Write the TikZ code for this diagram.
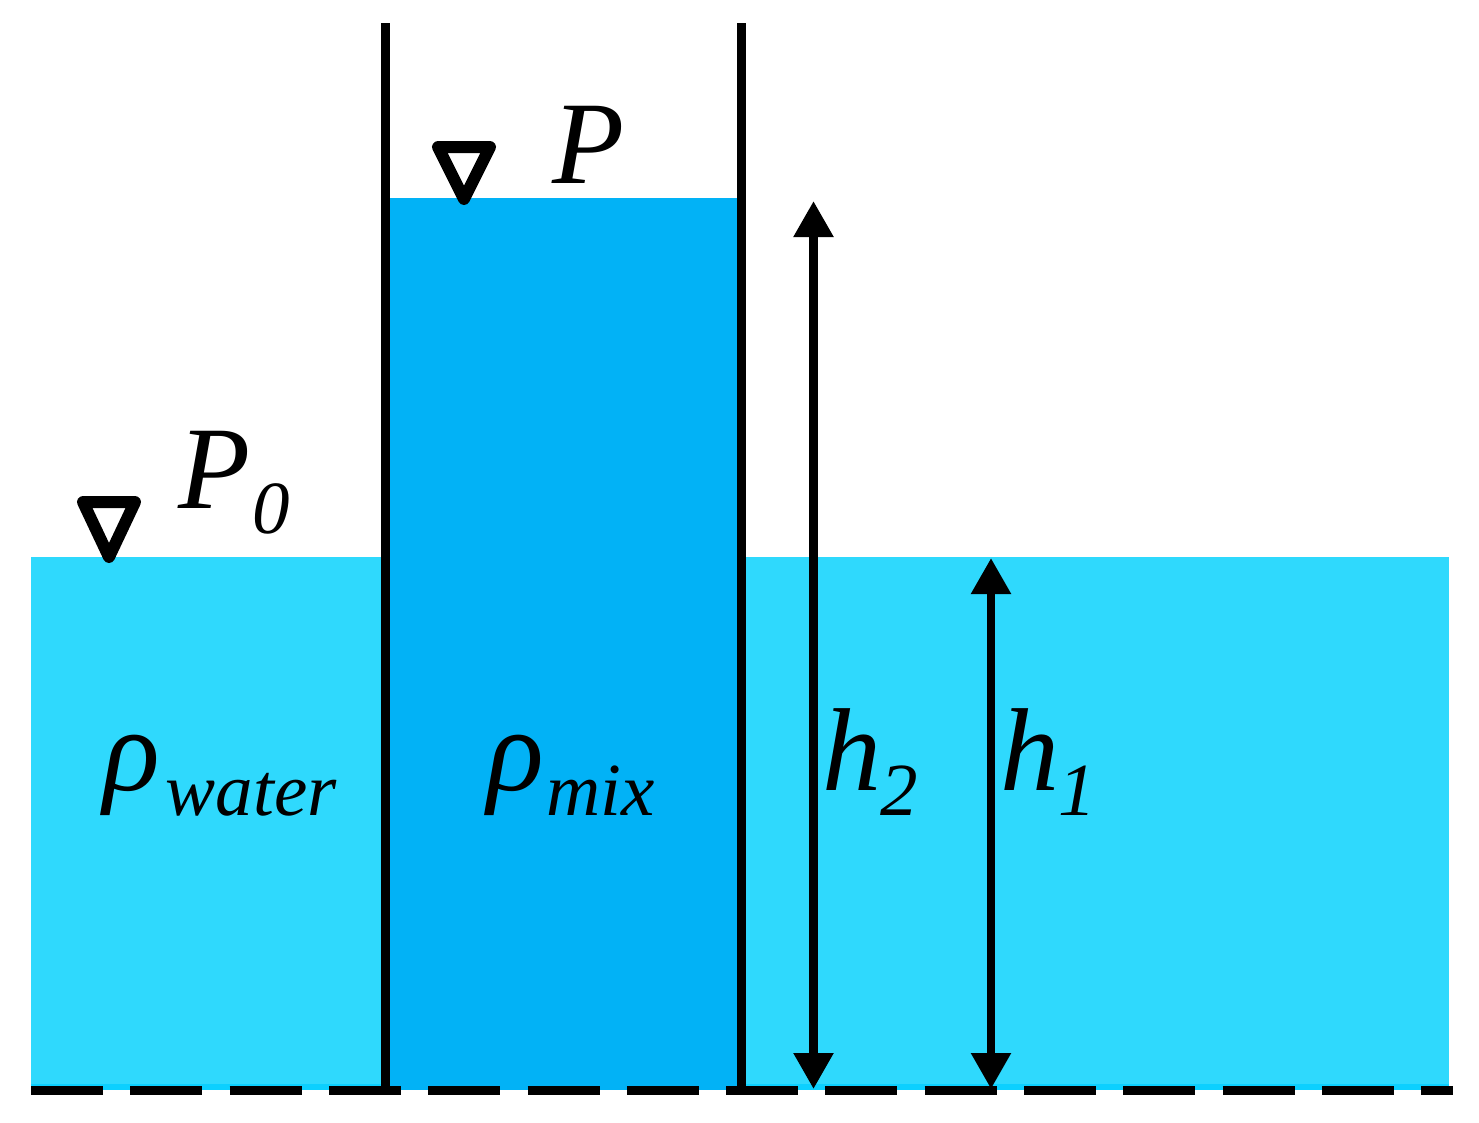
\documentclass[tikz,border=0pt]{standalone}
\usepackage{fontspec}
\setmainfont{Liberation Serif}
\usetikzlibrary{arrows.meta}
\definecolor{waterc}{HTML}{2FD9FD}
\definecolor{edgec}{HTML}{0CD0FF}
\definecolor{mixc}{HTML}{02B2F6}
\newcommand{\bigit}{\fontsize{118}{118}\selectfont\itshape}
\newcommand{\subit}[2][3]{\kern#1pt\lower25pt\hbox{\fontsize{75}{75}\selectfont\itshape #2}}
\tikzset{
  wall/.style={line width=9pt,black},
  datum/.style={line width=9pt,black,dash pattern=on 72pt off 27.3pt},
  level/.style={line width=12pt,black,line join=round},
  dim/.style={line width=8.5pt,black,{Triangle[length=36pt,width=38pt]}-{Triangle[length=36pt,width=38pt]},shorten <=-1pt,shorten >=-1pt},
  lab/.style={anchor=base west,inner sep=0pt,outer sep=0pt}
}
\begin{document}
\begin{tikzpicture}[x=1pt,y=-1pt]
\useasboundingbox (0,0) rectangle (1479,1122);
% water and mixture
\fill[waterc] (31,557) rectangle (1449,1088);
\fill[edgec] (31,1084) rectangle (1449,1090);
\fill[mixc] (388,198) rectangle (739,1090);
% walls
\coordinate (wlt) at (385.5,23);
\coordinate (wlb) at (385.5,1090);
\coordinate (wrt) at (741,23);
\coordinate (wrb) at (741,1090);
\draw[wall] (wlt) -- (wlb);
\draw[wall] (wrt) -- (wrb);
% datum
\coordinate (dl) at (31,1090);
\coordinate (dr) at (1453,1090);
\draw[datum] (dl) -- (dr);
% level marks
\draw[level] (438,147) -- (490,147) -- (464,199) -- cycle;
\draw[level] (83,502) -- (135,502) -- (109,557) -- cycle;
% dimension arrows
\coordinate (h2t) at (813.5,202);
\coordinate (h2b) at (813.5,1088);
\coordinate (h1t) at (991,559);
\coordinate (h1b) at (991,1088);
\draw[dim] (h2t) -- (h2b);
\draw[dim] (h1t) -- (h1b);
% labels
\node[lab] (p) at (552,183) {\bigit P};
\node[lab] (p0) at (178,508) {\bigit P\subit[2]{0}};
\node[lab] (rw) at (103,790) {\bigit ρ\subit[6]{water}};
\node[lab] (rm) at (487,790) {\bigit ρ\subit[3]{mix}};
\node[lab] (h2) at (822,790) {\bigit h\subit[-1]{2}};
\node[lab] (h1) at (1000,790) {\bigit h\subit[-1]{1}};
\end{tikzpicture}
\end{document}
